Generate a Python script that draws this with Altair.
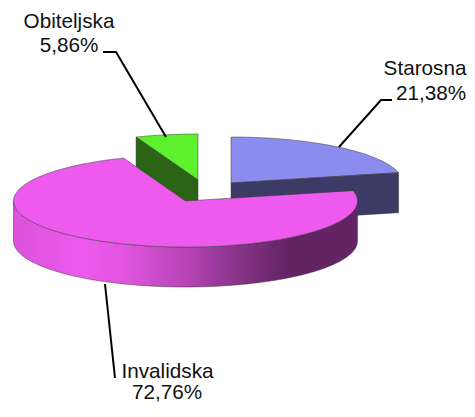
import math
import altair as alt

# ---- chart values ----
categories = ["Starosna", "Invalidska", "Obiteljska"]
shares = [21.38, 72.76, 5.86]
share_labels = ["21,38%", "72,76%", "5,86%"]

# ---- layout / style (page pixels) ----
MARGIN = 8
W, H = 459, 396
RX, RY, DEPTH = 172, 46, 40
apex = {"Starosna": (231, 183), "Invalidska": (185.5, 201), "Obiteljska": (198, 180)}
top_fill = {"Starosna": "#8C8CEE", "Invalidska": "#EE5AEE", "Obiteljska": "#5DF02D"}
cut_fill = {"Starosna": "#3B3B66", "Obiteljska": "#2B6414"}
EDGE = "#3a3a3a"
label_pos = {"Starosna": [(425, 75), (431, 100)], "Invalidska": [(167.5, 378), (167, 399)], "Obiteljska": [(69, 28), (69, 52)]}
leaders = {
    "Starosna": [(392, 100), (381, 100), (339, 147)],
    "Invalidska": [(105, 284), (115, 378)],
    "Obiteljska": [(103, 52), (116, 52), (166, 137)],
}

# slice angles, clockwise from 12 o'clock
angles = {}
acc = 0.0
for c, s in zip(categories, shares):
    angles[c] = (acc * 3.6, (acc + s) * 3.6)
    acc += s


def rim(cat, deg, drop=0):
    cx, cy = apex[cat]
    t = math.radians(deg)
    return (cx + RX * math.sin(t) - MARGIN, cy - RY * math.cos(t) + drop - MARGIN)


def sweep(a, b):
    n = max(2, int(abs(b - a)))
    return [a + (b - a) * i / n for i in range(n + 1)]


def shift(pt, drop=0):
    return (pt[0] - MARGIN, pt[1] + drop - MARGIN)


def y_up(pts):
    return [[x, -y] for x, y in pts]


def poly(pts):
    ring = y_up(pts)
    ring.append(ring[0])
    return {"type": "Feature", "properties": {}, "geometry": {"type": "Polygon", "coordinates": [ring]}}


def line(pts):
    return {"type": "Feature", "properties": {}, "geometry": {"type": "LineString", "coordinates": y_up(pts)}}


proj = alt.Projection(type="identity", scale=1, translate=[0, 0], reflectY=True)


def face(feature, fill, stroke=EDGE, width=0.5):
    return (
        alt.Chart(alt.Data(values=[feature]))
        .mark_geoshape(fill=fill, stroke=stroke, strokeWidth=width)
        .project(**proj.to_dict())
    )


def top(cat):
    a, b = angles[cat]
    return poly([shift(apex[cat])] + [rim(cat, d) for d in sweep(a, b)])


def cut(cat, deg):
    corner, corner_low = rim(cat, deg), rim(cat, deg, DEPTH)
    return poly([shift(apex[cat]), corner, corner_low, shift(apex[cat], DEPTH)])


front = sweep(90, 270)
pink_wall = poly(
    [rim("Invalidska", d) for d in front] + [rim("Invalidska", d, DEPTH) for d in reversed(front)]
)
wall_gradient = alt.Gradient(
    gradient="linear",
    x1=0, x2=1, y1=0, y2=0,
    stops=[
        alt.GradientStop(offset=0.0, color="#DC52DC"),
        alt.GradientStop(offset=0.2, color="#EE5AEE"),
        alt.GradientStop(offset=0.32, color="#E055E0"),
        alt.GradientStop(offset=0.5, color="#B844B8"),
        alt.GradientStop(offset=0.68, color="#7F307F"),
        alt.GradientStop(offset=0.8, color="#642464"),
        alt.GradientStop(offset=1.0, color="#642464"),
    ],
)

layers = [
    face(top("Starosna"), top_fill["Starosna"]),
    face(cut("Starosna", angles["Starosna"][1]), cut_fill["Starosna"]),
    face(top("Obiteljska"), top_fill["Obiteljska"]),
    face(cut("Obiteljska", angles["Obiteljska"][0]), cut_fill["Obiteljska"]),
    face(pink_wall, wall_gradient),
    face(top("Invalidska"), top_fill["Invalidska"]),
]
for cat in categories:
    layers.append(
        alt.Chart(alt.Data(values=[line([shift(p) for p in leaders[cat]])]))
        .mark_geoshape(filled=False, stroke="#000000", strokeWidth=2)
        .project(**proj.to_dict())
    )

rows = []
for cat, lab in zip(categories, share_labels):
    for (x, y), t in zip(label_pos[cat], (cat, lab)):
        rows.append({"x": x - MARGIN, "y": y - MARGIN, "t": t})

text = (
    alt.Chart(alt.Data(values=rows))
    .mark_text(font="Liberation Sans", fontSize=20.7, color="#111111", align="center", baseline="alphabetic")
    .encode(
        x=alt.X("x:Q", scale=alt.Scale(domain=[0, W], nice=False), axis=None),
        y=alt.Y("y:Q", scale=alt.Scale(domain=[H, 0], nice=False), axis=None),
        text="t:N",
    )
)
layers.append(text)

chart = (
    alt.layer(*layers)
    .properties(width=W, height=H, padding=0, autosize=alt.AutoSizeParams(type="none"), background="#ffffff")
    .configure_view(stroke=None)
)
chart.save("out.html", embed_options={"renderer": "svg", "actions": False})
